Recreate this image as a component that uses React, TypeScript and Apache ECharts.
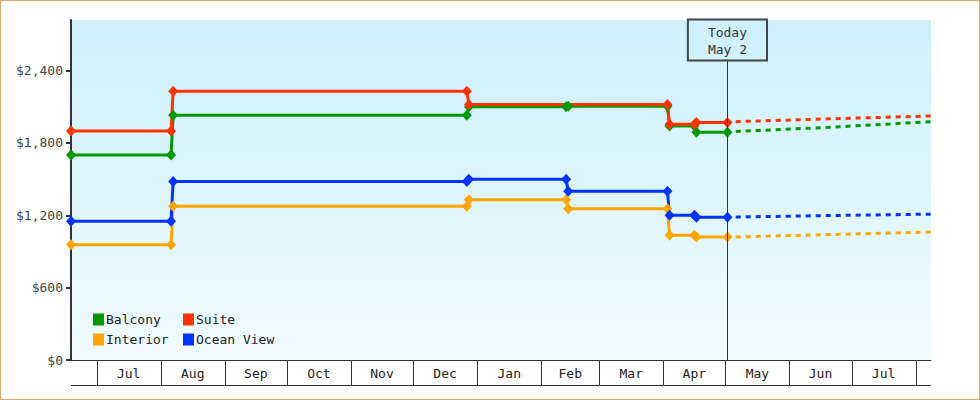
import { useEffect, useRef } from 'react';
import * as echarts from 'echarts';

const MONO = '"DejaVu Sans Mono", "Liberation Mono", monospace';

// prices per cabin type, [date, price]
const balcony: [string, number][] = [
  ['2024-06-18T15:00', 1700],
  ['2024-08-06', 1700],
  ['2024-08-07', 2030],
  ['2024-12-27', 2030],
  ['2024-12-28', 2100],
  ['2025-02-13', 2100],
  ['2025-02-14', 2105],
  ['2025-04-03', 2105],
  ['2025-04-04', 1940],
  ['2025-04-16', 1940],
  ['2025-04-17', 1890],
  ['2025-05-02', 1890],
];

const suite: [string, number][] = [
  ['2024-06-18T15:00', 1900],
  ['2024-08-06', 1900],
  ['2024-08-07', 2230],
  ['2024-12-27', 2230],
  ['2024-12-28', 2120],
  ['2025-04-03', 2120],
  ['2025-04-04', 1955],
  ['2025-04-16', 1955],
  ['2025-04-17', 1970],
  ['2025-05-02', 1970],
];

const interior: [string, number][] = [
  ['2024-06-18T15:00', 955],
  ['2024-08-06', 955],
  ['2024-08-07', 1275],
  ['2024-12-27', 1275],
  ['2024-12-28', 1330],
  ['2025-02-13', 1330],
  ['2025-02-14', 1255],
  ['2025-04-03', 1255],
  ['2025-04-04', 1035],
  ['2025-04-16', 1035],
  ['2025-04-17', 1020],
  ['2025-05-02', 1020],
];

const oceanView: [string, number][] = [
  ['2024-06-18T15:00', 1150],
  ['2024-08-06', 1150],
  ['2024-08-07', 1480],
  ['2024-12-27', 1480],
  ['2024-12-28', 1500],
  ['2025-02-13', 1500],
  ['2025-02-14', 1400],
  ['2025-04-03', 1400],
  ['2025-04-04', 1200],
  ['2025-04-16', 1200],
  ['2025-04-17', 1185],
  ['2025-05-02', 1185],
];

// forecast (dotted) after today
const forecastDates = ['2025-05-06', '2025-06-20', '2025-08-10'];
const balconyForecast = [1895, 1930, 1978];
const suiteForecast = [1977, 2000, 2025];
const interiorForecast = [1020, 1040, 1062];
const oceanViewForecast = [1186, 1198, 1210];

const monthStarts = [
  '2024-06-01', '2024-07-01', '2024-08-01', '2024-09-01', '2024-10-01',
  '2024-11-01', '2024-12-01', '2025-01-01', '2025-02-01', '2025-03-01',
  '2025-04-01', '2025-05-01', '2025-06-01', '2025-07-01', '2025-08-01',
  '2025-09-01',
];
const monthLabels = [
  'Jun', 'Jul', 'Aug', 'Sep', 'Oct', 'Nov', 'Dec', 'Jan',
  'Feb', 'Mar', 'Apr', 'May', 'Jun', 'Jul', 'Aug',
];

const yTicks = [0, 600, 1200, 1800, 2400];

const TODAY = '2025-05-02';
const X_MIN = '2024-06-18T15:00';
const X_MAX = '2025-08-08T10:00';

const COLORS: Record<string, string> = {
  Balcony: '#009900',
  Suite: '#ff3300',
  Interior: '#ffa500',
  'Ocean View': '#0033ff',
};

// local-time parse, same as echarts does for date strings
function toTs(s: string): number {
  const [d, t] = s.split('T');
  const [y, m, day] = d.split('-').map(Number);
  const [hh, mm] = t ? t.split(':').map(Number) : [0, 0];
  return new Date(y, m - 1, day, hh, mm).getTime();
}

function stepSeries(name: string, pts: [string, number][], z: number) {
  return {
    name,
    type: 'line',
    z,
    data: pts.map(([d, v]) => [toTs(d), v]),
    symbol: 'diamond',
    symbolSize: [10, 11],
    showSymbol: true,
    lineStyle: { color: COLORS[name], width: 3 },
    itemStyle: { color: COLORS[name] },
    emphasis: { disabled: true },
  };
}

function forecastSeries(name: string, vals: number[], z: number) {
  return {
    name,
    type: 'line',
    z,
    data: forecastDates.map((d, i) => [toTs(d), vals[i]]),
    showSymbol: false,
    symbol: 'none',
    lineStyle: { color: COLORS[name], width: 3, type: [5, 5] },
    itemStyle: { color: COLORS[name] },
    emphasis: { disabled: true },
  };
}

export default function App() {
  const chartRef = useRef<HTMLDivElement>(null);

  useEffect(() => {
    if (!chartRef.current) {
      return;
    }
    const chart = echarts.init(chartRef.current, null, { renderer: 'svg' });

    const monthData = monthLabels.map((_, i) => [
      toTs(monthStarts[i]),
      toTs(monthStarts[i + 1]),
      i,
    ]);

    const legendBase = {
      orient: 'vertical',
      top: 313,
      padding: 0,
      icon: 'rect',
      itemWidth: 11,
      itemHeight: 12,
      itemGap: 7,
      selectedMode: false,
      textStyle: { fontFamily: MONO, fontSize: 13, color: '#222', padding: [0, 0, 0, -3] },
    };

    const option: any = {
      animation: false,
      legend: [
        { ...legendBase, left: 93, data: ['Balcony', 'Interior'] },
        { ...legendBase, left: 183, data: ['Suite', 'Ocean View'] },
      ],
      grid: {
        left: 71,
        right: 49,
        top: 20,
        bottom: 40,
        show: true,
        borderWidth: 0,
        backgroundColor: new echarts.graphic.LinearGradient(0, 0, 0, 1, [
          { offset: 0, color: '#cdf0fc' },
          { offset: 1, color: '#f0fbff' },
        ]),
      },
      xAxis: {
        type: 'time',
        min: toTs(X_MIN),
        max: toTs(X_MAX),
        axisLine: { show: true, lineStyle: { color: '#333', width: 1 } },
        axisTick: { show: false },
        axisLabel: { show: false },
        splitLine: { show: false },
      },
      yAxis: {
        type: 'value',
        min: 0,
        max: 2820,
        interval: 600,
        axisLine: { show: true, lineStyle: { color: '#333', width: 2 } },
        axisTick: {
          show: true,
          length: 5,
          customValues: yTicks,
          lineStyle: { color: '#333', width: 2 },
        },
        axisLabel: {
          customValues: yTicks,
          margin: 8,
          color: '#444',
          fontFamily: MONO,
          fontSize: 13,
          formatter: (v: number) => '$' + v.toLocaleString('en-US'),
        },
        splitLine: { show: false },
      },
      series: [
        {
          ...stepSeries('Balcony', balcony, 2),
          markLine: {
            silent: true,
            symbol: 'none',
            animation: false,
            lineStyle: { color: '#333', width: 1, type: 'solid' },
            label: {
              show: true,
              position: 'end',
              distance: 0,
              formatter: 'Today\nMay 2',
              color: '#333',
              fontFamily: MONO,
              fontSize: 13,
              lineHeight: 17,
              borderColor: '#444',
              borderWidth: 1,
              padding: [4, 20, 3, 20],
              backgroundColor: 'transparent',
            },
            data: [[{ coord: [toTs(TODAY), 0] }, { coord: [toTs(TODAY), 2484] }]],
          },
        },
        stepSeries('Interior', interior, 2),
        stepSeries('Suite', suite, 2),
        stepSeries('Ocean View', oceanView, 2),
        forecastSeries('Balcony', balconyForecast, 1),
        forecastSeries('Interior', interiorForecast, 1),
        forecastSeries('Suite', suiteForecast, 1),
        forecastSeries('Ocean View', oceanViewForecast, 1),
        {
          type: 'custom',
          silent: true,
          clip: false,
          encode: { x: [0, 1] },
          data: monthData,
          renderItem: (params: any, api: any) => {
            const cs = params.coordSys;
            const left = cs.x;
            const right = cs.x + cs.width;
            const y0 = cs.y + cs.height;
            const y1 = y0 + 25;
            const xs = api.coord([api.value(0), 0])[0];
            const xe = api.coord([api.value(1), 0])[0];
            const x0 = Math.max(xs, left);
            const x1 = Math.min(xe, right);
            if (x1 <= x0) {
              return null;
            }
            const children: any[] = [
              {
                type: 'line',
                shape: { x1: x0, y1: y1 + 0.5, x2: x1, y2: y1 + 0.5 },
                style: { stroke: '#333', lineWidth: 1 },
              },
            ];
            if (xs >= left) {
              const lx = Math.round(xs) + 0.5;
              children.push({
                type: 'line',
                shape: { x1: lx, y1: y0, x2: lx, y2: y1 },
                style: { stroke: '#333', lineWidth: 1 },
              });
            }
            if (xs >= left - 0.5 && xe <= right + 0.5) {
              children.push({
                type: 'text',
                style: {
                  text: monthLabels[api.value(2)],
                  x: (x0 + x1) / 2,
                  y: (y0 + y1) / 2 + 1,
                  align: 'center',
                  verticalAlign: 'middle',
                  fill: '#222',
                  fontFamily: MONO,
                  fontSize: 13,
                },
              });
            }
            return { type: 'group', children };
          },
        },
      ],
    };

    chart.setOption(option);

    return () => {
      chart.dispose();
    };
  }, []);

  return (
    <div style={{ position: 'fixed', left: 0, top: 0, width: 980, height: 400, background: '#fff' }}>
      <div ref={chartRef} style={{ position: 'absolute', left: 0, top: 0, width: 980, height: 400 }} />
      <div
        style={{
          position: 'absolute',
          left: 0,
          top: 0,
          width: 980,
          height: 400,
          boxSizing: 'border-box',
          border: '1px solid #e8aa68',
          pointerEvents: 'none',
        }}
      />
    </div>
  );
}
